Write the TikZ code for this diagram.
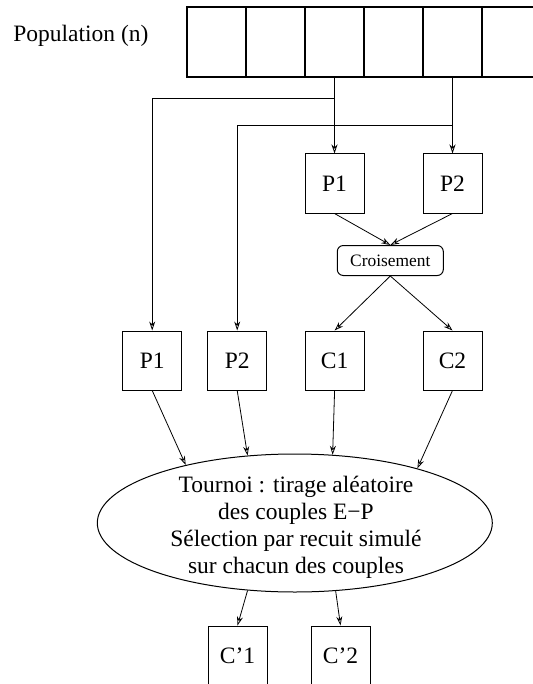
\documentclass[tikz,border=0pt]{standalone}
\usepackage{fontspec}
\setmainfont{Liberation Serif}
\usetikzlibrary{arrows.meta,shapes.geometric}

\begin{document}
\begin{tikzpicture}[x=0.5pt,y=-0.5pt,
  every node/.style={font=\fontsize{11.75}{13.5}\selectfont},
  arr/.style={-{Stealth[open,length=4.5pt,width=3pt]}, line width=0.4pt},
  sq/.style={draw, line width=0.5pt, minimum width=29.5pt, minimum height=29.5pt, inner sep=0pt},
  cell/.style={draw, line width=0.7pt, minimum width=29.5pt, minimum height=35pt, inner sep=0pt},
  xbox/.style={draw, line width=0.5pt, rounded corners=3pt, minimum width=53pt, minimum height=15pt,
               inner sep=0pt, font=\fontsize{8.7}{10}\selectfont},
  oval/.style={draw, ellipse, line width=0.5pt, minimum width=197.5pt, minimum height=69pt, inner sep=0pt},
]
\clip (0,0) rectangle (533,684);

% population array
\node[anchor=base west, inner sep=0pt] (pop) at (13,42) {Population (n)};
\foreach \i/\x in {1/216.5,2/275.5,3/334.5,4/393.5,5/452.5,6/511.5}
  \node[cell] (c\i) at (\x,42) {};

% selected parents
\node[sq] (tp1) at (334.5,183.5) {P1};
\node[sq] (tp2) at (452.5,183.5) {P2};
\node[xbox] (cx) at (390.3,260.5) {Croisement};

% parents and children
\node[sq] (bp1) at (152.2,360.5) {P1};
\node[sq] (bp2) at (237.2,360.5) {P2};
\node[sq] (bc1) at (334.6,360.5) {C1};
\node[sq] (bc2) at (452.5,360.5) {C2};

% tournament
\node[oval] (ell) at (294.8,523) {};
\node[align=center] (ellt) at (296,527)
  {Tournoi : tirage aléatoire\\des couples E−P\\Sélection par recuit simulé\\sur chacun des couples};

% survivors
\node[sq] (q1) at (237.5,655.5) {C’1};
\node[sq] (q2) at (340.5,655.5) {C’2};

% connectors
\path (c3.south) ++(0,20.6) coordinate (j1);
\path (c5.south) ++(0,48) coordinate (j2);
\draw[arr] (c3.south) -- (tp1.north);
\draw[arr] (c5.south) -- (tp2.north);
\draw[arr] (j1) -| (bp1.north);
\draw[arr] (j2) -| (bp2.north);
\draw[arr] (tp1.south) -- (cx.north);
\draw[arr] (tp2.south) -- (cx.north);
\draw[arr] (cx.south) -- (bc1.north);
\draw[arr] (cx.south) -- (bc2.north);
\draw[arr] (bp1.south) -- (ell.152.1);
\draw[arr] (bp2.south) -- (ell.125.7);
\draw[arr] (bc1.south) -- (ell.61.6);
\draw[arr] (bc2.south) -- (ell.24.2);
\draw[arr] (ell.235.6) -- (q1.north);
\draw[arr] (ell.301.5) -- (q2.north);
\end{tikzpicture}
\end{document}
